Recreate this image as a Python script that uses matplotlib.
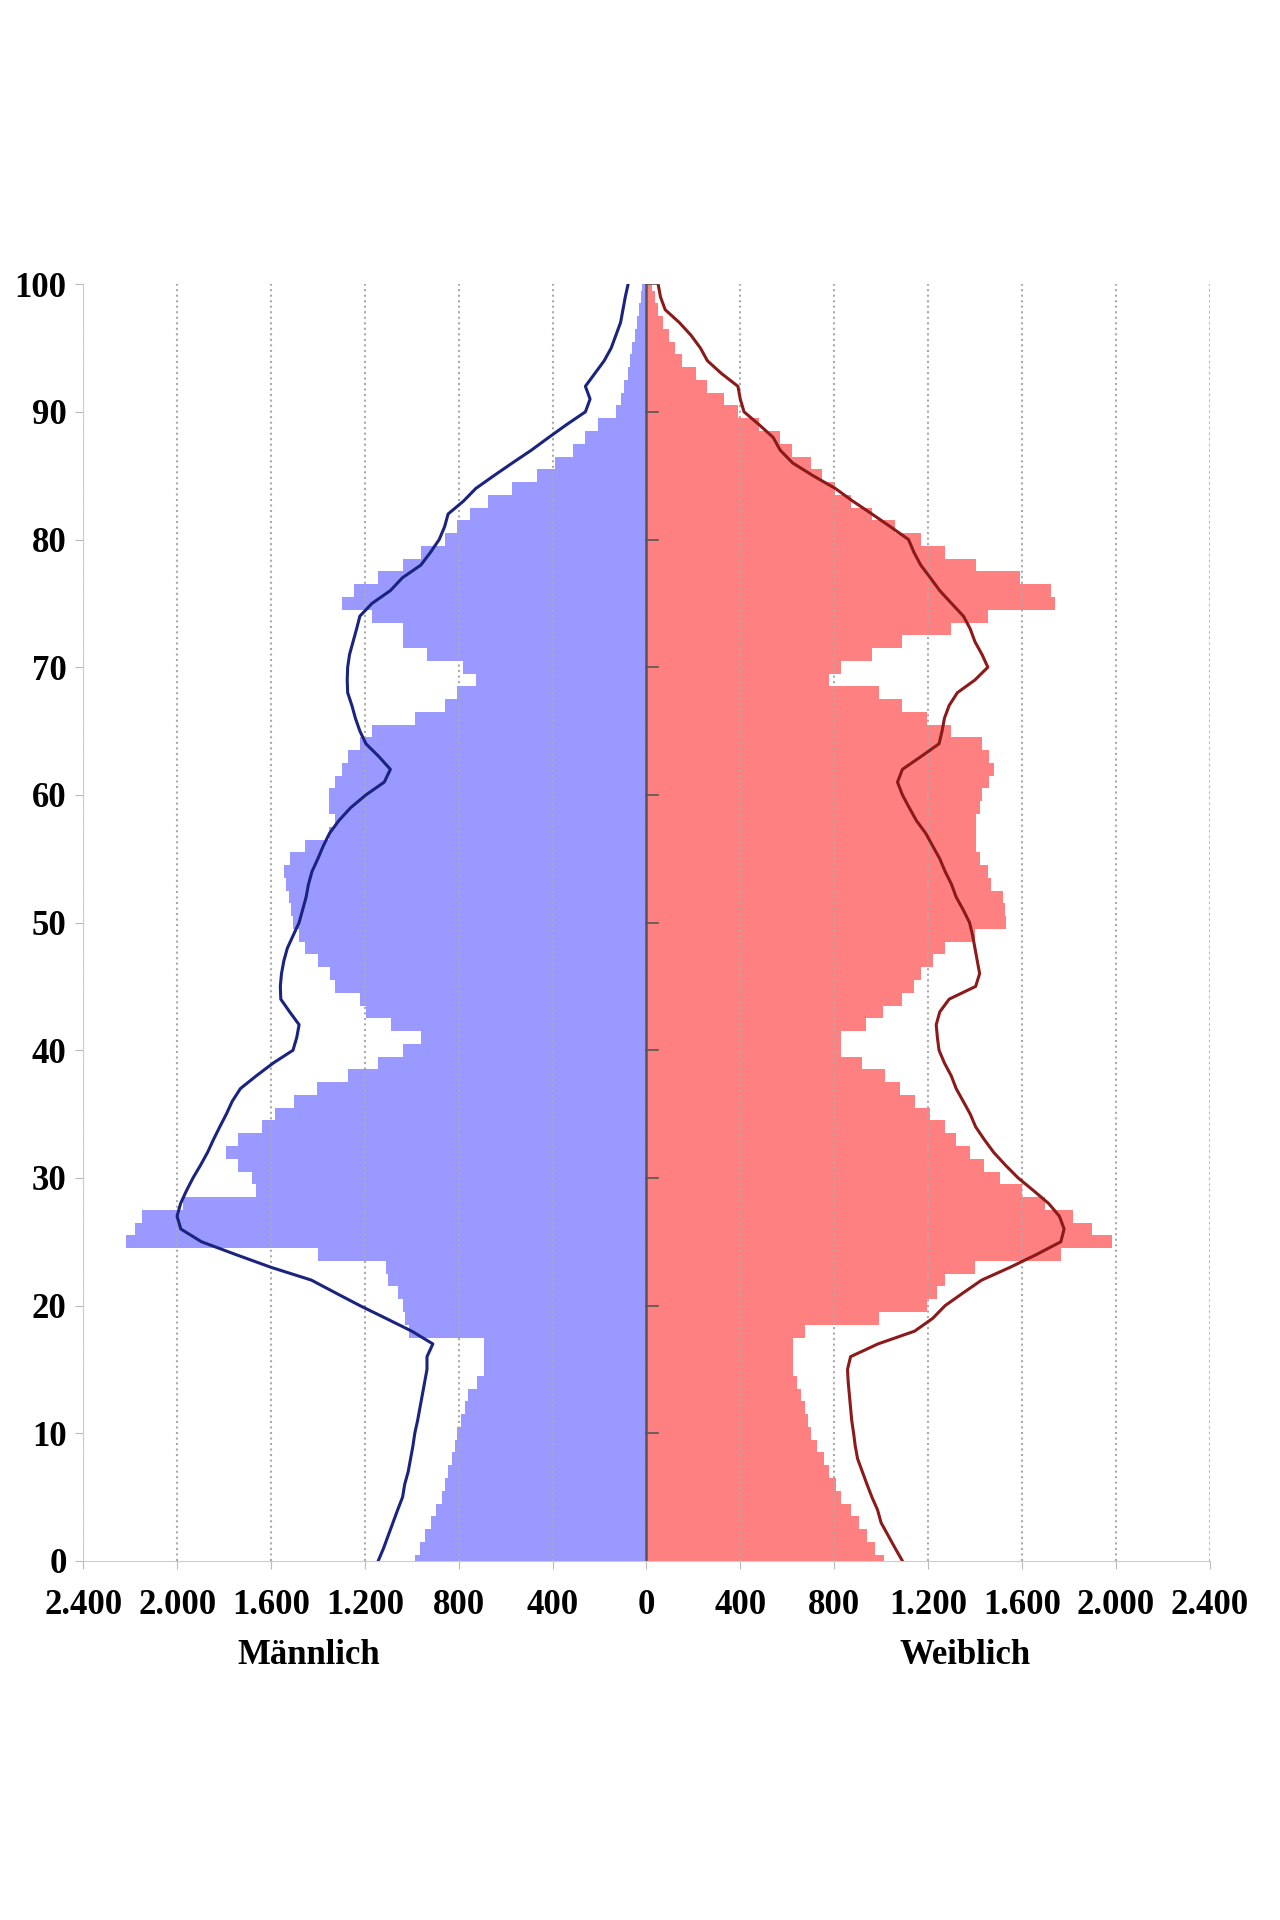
import numpy as np
import matplotlib.pyplot as plt

ages = np.arange(0, 101)

male_bar = [987,965,945,920,895,873,860,845,830,815,
            805,790,775,760,720,690,690,690,
            1013,1030,1039,1060,1101,1110,1400,
            2218,2180,2150,1974,1662,
            1680,1740,1792,1740,1636,1584,1500,1403,1270,1143,
            1039,961,1090,1195,1220,1325,1350,1400,1455,1480,
            1506,1515,1525,1535,1543,1520,1455,1351,1325,1351,
            1351,1325,1299,1273,1220,1169,987,857,805,727,
            780,935,1039,1039,1169,1299,1247,1143,1039,961,
            857,805,753,675,571,468,390,312,260,208,
            130,110,95,80,70,62,50,40,30,25,20]

male_line = [1143,1120,1100,1080,1060,1039,1030,1015,1005,995,
             987,975,965,955,945,935,935,910,
             1000,1110,1221,1325,1428,1600,1750,
             1896,1984,2000,1985,1960,
             1932,1900,1870,1845,1818,1790,1765,1730,1662,1590,
             1506,1490,1480,1520,1558,1560,1555,1545,1530,1505,
             1480,1465,1450,1440,1425,1400,1377,1350,1310,1260,
             1195,1117,1091,1140,1195,1221,1240,1255,1273,1275,
             1273,1265,1250,1235,1221,1169,1091,1040,961,920,
             883,860,845,780,727,650,571,490,416,340,
             260,240,260,220,180,150,130,110,100,90,78]

female_bar = [1013,975,940,905,870,831,810,780,755,725,
              701,690,675,660,640,623,623,623,
              675,990,1195,1240,1273,1400,1765,
              1984,1900,1818,1700,1600,
              1506,1440,1380,1320,1273,1210,1143,1080,1015,920,
              831,831,935,1010,1091,1140,1170,1220,1273,1400,
              1532,1530,1520,1470,1455,1420,1403,1403,1403,1420,
              1430,1460,1480,1460,1430,1299,1195,1091,990,779,
              831,960,1091,1299,1455,1740,1725,1590,1403,1273,
              1169,1060,961,870,805,750,701,620,570,480,
              390,330,260,210,150,120,95,70,50,35,25]

female_line = [1091,1060,1030,1000,985,961,940,920,900,890,
               883,875,870,865,860,857,870,987,
               1143,1220,1273,1350,1429,1550,1662,
               1766,1780,1760,1714,1650,
               1584,1530,1480,1440,1403,1380,1350,1320,1299,1270,
               1247,1240,1235,1250,1290,1403,1420,1410,1400,1390,
               1377,1350,1320,1300,1273,1250,1220,1190,1150,1120,
               1091,1070,1091,1170,1247,1260,1270,1290,1325,1400,
               1455,1430,1400,1380,1351,1300,1250,1210,1169,1140,
               1117,1040,961,880,805,710,623,570,540,480,
               416,400,390,320,260,230,190,140,80,60,50]

xticks = np.arange(-2400, 2401, 400)
yticks = np.arange(0, 101, 10)

plt.rc('font', family='Liberation Serif', weight='bold')

fig = plt.figure(figsize=(12.8, 19.2), dpi=100)
ax = fig.add_axes([0.065, 0.187, 0.88, 0.665])

ax.barh(ages, -np.array(male_bar), height=1.0, color='#9999ff', linewidth=0)
ax.barh(ages, female_bar, height=1.0, color='#ff8080', linewidth=0)
ax.plot(-np.array(male_line), ages, color='#1a237e', lw=2.2)
ax.plot(female_line, ages, color='#8b1a1a', lw=2.2)

ax.axvline(0, color='#555555', lw=1.8)
for yt in yticks[1:]:
    ax.plot([0, 50], [yt, yt], color='#555555', lw=1.2)

ax.set_xlim(-2400, 2400)
ax.set_ylim(0, 100)
ax.set_xticks(xticks)
ax.set_xticklabels([f"{abs(v)/1000:.3f}" if abs(v) >= 1000 else str(abs(v)) for v in xticks])
ax.set_yticks(yticks)
ax.tick_params(labelsize=25, length=6, color='#bbbbbb')
ax.tick_params(axis='x', pad=14)
ax.tick_params(axis='y', pad=6)
ax.grid(axis='x', color='#aaaaaa', ls=':', lw=1.5)
for s in ['top', 'right']:
    ax.spines[s].set_visible(False)
ax.spines['left'].set_color('#cccccc')
ax.spines['bottom'].set_color('#cccccc')
ax.axvline(2400, color='#dddddd', lw=1)

ax.text(-1440, -7.4, "Männlich", ha='center', va='center', fontsize=25, fontweight='bold')
ax.text(1360, -7.4, "Weiblich", ha='center', va='center', fontsize=25, fontweight='bold')

plt.savefig("out.png", dpi=100)
plt.close()
